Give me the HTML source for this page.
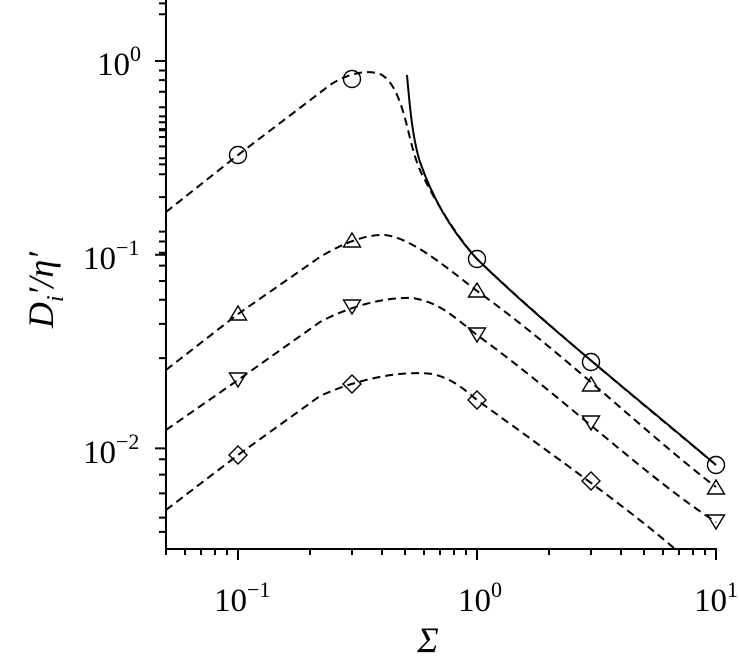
<!DOCTYPE html>
<html><head><style>body{margin:0;background:#fff}svg{display:block}text{font-family:"Liberation Serif",serif;fill:#000}</style></head>
<body>
<svg width="739" height="658" viewBox="0 0 739 658" xmlns="http://www.w3.org/2000/svg">
<g stroke="#000" stroke-width="2" fill="none">
<line x1="166" y1="0" x2="166" y2="550"/>
<line x1="165" y1="549" x2="717" y2="549"/>
<path d="M166 61H155M166 254.7H155M166 448.4H155"/>
<path d="M166 3.4H159M166 14.2H159M166 164.4H159M166 130.3H159M166 107.2H159M166 91.8H159M166 80.1H159M166 70.5H159"/>
<path d="M166 197.1H159M166 174.2H159M166 158.2H159M166 146.4H159M166 137.0H159M166 129.1H159M166 122.3H159M166 116.4H159 M166 358.1H159M166 323.9H159M166 299.7H159M166 281.0H159M166 265.6H159M166 252.7H159M166 241.5H159M166 231.6H159 M166 531.9H159M166 517.6H159M166 493.4H159M166 474.6H159M166 459.3H159"/>
<path d="M238 549V560M477 549V560M716 549V560"/>
<path d="M166 549V555M185 549V555M201 549V555M215 549V555M227 549V555M310 549V555M352 549V555M382 549V555M405 549V555M424 549V555M440 549V555M454 549V555M466 549V555M549 549V555M591 549V555M621 549V555M644 549V555M663 549V555M679 549V555M693 549V555M705 549V555"/>
</g>
<g stroke="#000" stroke-width="2" fill="none" stroke-dasharray="8,5">
<path d="M166 212 L238 155 L330 85 C350 72 368 70 380 74 C394 80 402 105 408 130 C414 155 418 168 425 180 C440 210 460 240 477 259 C540 320 650 410 716 465"/>
<path d="M166 370 L238 314 L320 257 C345 242 368 234 385 235 C410 238 440 262 477 291 C560 350 650 437 716 487"/>
<path d="M166 430 L238 380 L320 322 C350 306 385 297 412 298 C440 302 455 318 477 335 C560 395 650 480 716 522"/>
<path d="M166 510 L238 455 L320 396 C355 380 400 370 432 374 C452 378 465 390 477 400 C560 460 630 510 675 549"/>
</g>
<path d="M407 75 C410 110 413 140 420 162 C435 205 455 235 477 259 C550 330 640 400 716 465" stroke="#000" stroke-width="2" fill="none"/>
<g stroke="#000" stroke-width="1.4" fill="none">
<circle cx="238" cy="155" r="8.5"/><circle cx="352" cy="79" r="8.5"/><circle cx="477" cy="259" r="8.5"/><circle cx="591" cy="362" r="8.5"/><circle cx="716" cy="465" r="8.5"/>
<path d="M238 306 l-8.5 14 h17z M352 233 l-8.5 14 h17z M477 283 l-8.5 14 h17z M591 377 l-8.5 14 h17z M716 480 l-8.5 14 h17z"/>
<path d="M238 387 l-8.5 -14 h17z M352 314 l-8.5 -14 h17z M477 342 l-8.5 -14 h17z M591 430 l-8.5 -14 h17z M716 529 l-8.5 -14 h17z"/>
<path d="M238 446 l9 9 l-9 9 l-9 -9z M352 375 l9 9 l-9 9 l-9 -9z M477 391 l9 9 l-9 9 l-9 -9z M591 472 l9 9 l-9 9 l-9 -9z"/>
</g>
<g font-size="33">
<text x="97" y="75">10<tspan dy="-14" font-size="22">0</tspan></text>
<text x="83" y="269">10<tspan dy="-14" font-size="22">−1</tspan></text>
<text x="83" y="463">10<tspan dy="-14" font-size="22">−2</tspan></text>
<text x="214" y="611">10<tspan dy="-14" font-size="22">−1</tspan></text>
<text x="458" y="611">10<tspan dy="-14" font-size="22">0</tspan></text>
<text x="694" y="611">10<tspan dy="-14" font-size="22">1</tspan></text>
</g>
<text x="428" y="652" font-size="36" font-style="italic" text-anchor="middle">Σ</text>
<text transform="translate(53,290) rotate(-90)" font-size="36" font-style="italic" text-anchor="middle">D<tspan dy="10" font-size="24">i</tspan><tspan dy="-10">′/η′</tspan></text>
</svg>
</body></html>
